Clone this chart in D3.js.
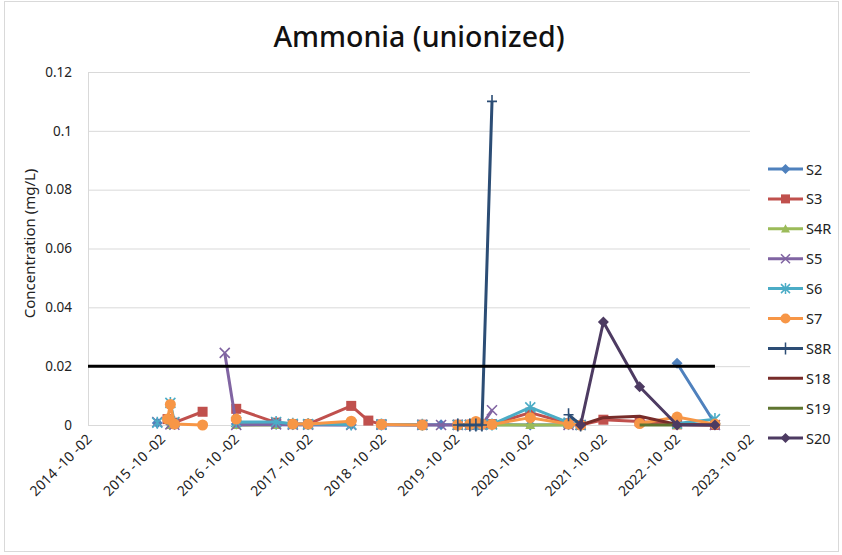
<!DOCTYPE html>
<html>
<head>
<meta charset="utf-8">
<script src="https://cdn.jsdelivr.net/npm/d3@7/dist/d3.min.js"></script>
<style>
  body { margin: 0; background: #fff; }
  text { font-family: "Noto Sans", "Open Sans", sans-serif; fill: #222; }
</style>
</head>
<body>
<div id="my_dataviz"></div>
<script>
// sampling dates (shared by all stations)
var dates = ["2015-09-11", "2015-11-01", "2015-11-15", "2015-12-05", "2016-04-23", "2016-08-11",
  "2016-10-07", "2017-04-23", "2017-07-15", "2017-09-29", "2018-05-01", "2018-07-25", "2018-09-28",
  "2019-04-19", "2019-07-21", "2019-10-12", "2019-12-11", "2020-01-10", "2020-02-09", "2020-03-30",
  "2020-10-06", "2021-04-14", "2021-06-13", "2021-10-04", "2022-04-02", "2022-10-05", "2023-04-11"];

// concentrations per station, null = no sample (gap in the line)
var s2  = [0.0007, null, 0.0004, 0.0002, null, null, 0.0003, 0.0002, 0.0001, 0.0001, 0.0001, null, 0.0001,
  0.0001, 0.0001, 0.0001, 0.0001, 0.0001, 0.0001, 0.0001, 0.0, 0.0001, null, null, null, 0.021, 0.0005];
var s3  = [null, 0.002, null, 0.0008, 0.0045, null, 0.0055, 0.0008, 0.0003, 0.0003, 0.0065, 0.0015, 0.0002,
  0.0001, null, 0.0001, 0.0001, 0.0001, 0.0002, 0.0003, 0.0042, 0.0006, 0.0, 0.0018, 0.0012, 0.0002, 0.0];
var s4r = [null, null, 0.0, null, null, null, 0.0, 0.0, null, 0.0, null, null, 0.0,
  null, null, 0.0, null, null, null, 0.0, 0.0, 0.0, null, null, null, 0.0, null];
var s5  = [0.001, null, 0.0002, 0.0001, null, 0.0245, 0.0, 0.0002, 0.0001, 0.0001, 0.0, null, 0.0001,
  0.0, 0.0, 0.0, 0.0, 0.0, 0.0, 0.005, null, 0.0, 0.0, null, null, null, 0.0];
var s6  = [0.0008, null, 0.0075, 0.001, null, null, 0.001, 0.001, 0.0004, 0.0003, 0.0002, null, 0.0002,
  0.0001, null, 0.0001, 0.0001, 0.0001, 0.0001, 0.0002, 0.006, 0.0008, 0.0, null, null, 0.0005, 0.002];
var s7  = [null, 0.002, 0.007, 0.0003, 0.0, null, 0.002, null, 0.0003, 0.0003, 0.0013, null, 0.0002,
  0.0, null, 0.0, 0.0002, 0.0012, 0.0003, 0.0002, 0.0025, 0.0003, 0.0, null, 0.0005, 0.0027, 0.0003];
var s8r = [null, null, null, null, null, null, null, null, null, null, null, null, null,
  null, null, 0.0, 0.0, 0.0, 0.0, 0.11, null, 0.0035, 0.0, null, null, null, null];
var s18 = [null, null, null, null, null, null, null, null, null, null, null, null, null,
  null, null, null, null, null, null, null, null, null, 0.0, 0.0025, 0.003, 0.0002, 0.0];
var s19 = [null, null, null, null, null, null, null, null, null, null, null, null, null,
  null, null, null, null, null, null, null, null, null, null, null, 0.0, 0.0, null];
var s20 = [null, null, null, null, null, null, null, null, null, null, null, null, null,
  null, null, null, null, null, null, null, null, null, 0.0, 0.035, 0.013, 0.0, 0.0];

var seriesNames = ["S2", "S3", "S4R", "S5", "S6", "S7", "S8R", "S18", "S19", "S20"];
var seriesValues = [s2, s3, s4r, s5, s6, s7, s8r, s18, s19, s20];
var seriesColors = ["#4F81BD", "#C0504D", "#9BBB59", "#8064A2", "#4BACC6", "#F79646",
  "#2C4D75", "#772C2A", "#5F7530", "#4D3B62"];
var seriesMarkers = ["diamond", "square", "triangle", "x", "star", "circle", "plus", "none", "none", "diamond"];

// guideline value and its start/end dates
var limitValue = 0.02;
var limitDates = ["2014-10-02", "2023-04-11"];

var yTicks = [0, 0.02, 0.04, 0.06, 0.08, 0.1, 0.12];
var axisStart = "2014-10-02", axisEnd = "2023-10-02";

var margin = { top: 72, right: 92, bottom: 130, left: 88 },
  fullW = 842, fullH = 555,
  width = fullW - margin.left - margin.right,
  height = fullH - margin.top - margin.bottom;

var parse = d3.timeParse("%Y-%m-%d");

var root = d3.select("#my_dataviz")
  .append("svg")
  .attr("width", fullW)
  .attr("height", fullH);

// chart frame
root.append("rect")
  .attr("x", 4.5).attr("y", 1.5)
  .attr("width", 834).attr("height", 550)
  .attr("fill", "none")
  .attr("stroke", "#D9D9D9");

root.append("text")
  .attr("x", 419).attr("y", 47)
  .attr("text-anchor", "middle")
  .style("font-size", "28.5px")
  .style("font-weight", "500")
  .style("fill", "#111")
  .text("Ammonia (unionized)");

var svg = root.append("g")
  .attr("transform", "translate(" + margin.left + "," + margin.top + ")");

var x = d3.scaleTime()
  .domain([parse(axisStart), parse(axisEnd)])
  .range([0, width]);

var y = d3.scaleLinear()
  .domain([0, 0.12])
  .range([height, 0]);

// horizontal gridlines
svg.append("g")
  .selectAll("line")
  .data(yTicks)
  .enter()
  .append("line")
  .attr("x1", 0).attr("x2", width)
  .attr("y1", function(d) { return y(d) + 0.5; })
  .attr("y2", function(d) { return y(d) + 0.5; })
  .attr("stroke", "#D9D9D9");

svg.append("line")
  .attr("x1", 0.5).attr("x2", 0.5)
  .attr("y1", 0).attr("y2", height)
  .attr("stroke", "#D9D9D9");

// y axis
var yAxis = svg.append("g")
  .call(d3.axisLeft(y).tickValues(yTicks).tickSize(0).tickPadding(16)
    .tickFormat(function(d) { return d3.format("")(+d.toFixed(2)); }));
yAxis.select(".domain").remove();
yAxis.selectAll("text").style("font-size", "13.5px").style("font-family", "'Noto Sans', sans-serif").attr("fill", "#222");

root.append("text")
  .attr("transform", "translate(35," + (margin.top + height / 2 - 5) + ") rotate(-90)")
  .attr("text-anchor", "middle")
  .style("font-size", "15px")
  .text("Concentration (mg/L)");

// x axis, one tick per year
var xTicks = d3.range(0, 10).map(function(i) { return d3.timeMonth.offset(parse(axisStart), 12 * i); });
var xAxis = svg.append("g")
  .attr("transform", "translate(0," + height + ")")
  .call(d3.axisBottom(x).tickValues(xTicks).tickSize(0).tickFormat(d3.timeFormat("%Y -%m -%d")));
xAxis.select(".domain").remove();
xAxis.selectAll("text")
  .style("font-size", "14px")
  .style("font-family", "'Noto Sans', sans-serif")
  .attr("fill", "#222")
  .attr("text-anchor", "end")
  .attr("dx", "0").attr("dy", "0")
  .attr("transform", "translate(2,13) rotate(-45)");

// marker shapes, s = half size
function markerPath(type, s) {
  if (type == "diamond") return "M0," + (-s) + "L" + s + ",0L0," + s + "L" + (-s) + ",0Z";
  if (type == "square") return "M" + (-s) + "," + (-s) + "h" + (2 * s) + "v" + (2 * s) + "h" + (-2 * s) + "Z";
  if (type == "triangle") return "M0," + (-s) + "L" + s + "," + (s * 0.8) + "L" + (-s) + "," + (s * 0.8) + "Z";
  if (type == "x") return "M" + (-s) + "," + (-s) + "L" + s + "," + s + "M" + (-s) + "," + s + "L" + s + "," + (-s);
  if (type == "star") return "M" + (-s) + "," + (-s) + "L" + s + "," + s + "M" + (-s) + "," + s + "L" + s + "," + (-s) +
    "M0," + (-s - 1) + "V" + (s + 1);
  if (type == "plus") return "M0," + (-s - 1.5) + "V" + (s + 1.5) + "M" + (-s) + ",0H" + s;
  return "";
}
var stroked = { x: true, star: true, plus: true };
var markerSize = { diamond: 5.5, square: 5, triangle: 5, x: 5, star: 5, plus: 5 };

var line = d3.line()
  .defined(function(d) { return d.v !== null; })
  .x(function(d) { return x(d.date); })
  .y(function(d) { return y(d.v); });

seriesNames.forEach(function(name, i) {
  var pts = dates.map(function(d, j) { return { date: parse(d), v: seriesValues[i][j] }; });
  var g = svg.append("g");
  var mk = seriesMarkers[i];
  g.append("path")
    .datum(pts)
    .attr("fill", "none")
    .attr("stroke", seriesColors[i])
    .attr("stroke-width", 3)
    .attr("stroke-linejoin", "round")
    .attr("d", line);
  if (mk == "circle") {
    g.selectAll("circle")
      .data(pts.filter(function(d) { return d.v !== null; }))
      .enter()
      .append("circle")
      .attr("cx", function(d) { return x(d.date); })
      .attr("cy", function(d) { return y(d.v); })
      .attr("r", 5.5)
      .attr("fill", seriesColors[i]);
  } else if (mk != "none") {
    var isStroke = stroked[mk];
    g.selectAll("path.m")
      .data(pts.filter(function(d) { return d.v !== null; }))
      .enter()
      .append("path")
      .attr("class", "m")
      .attr("transform", function(d) { return "translate(" + x(d.date) + "," + y(d.v) + ")"; })
      .attr("d", markerPath(mk, markerSize[mk]))
      .attr("fill", isStroke ? "none" : seriesColors[i])
      .attr("stroke", seriesColors[i])
      .attr("stroke-width", isStroke ? 1.6 : 0);
  }
});

// guideline
svg.append("line")
  .attr("x1", x(parse(limitDates[0]))).attr("x2", x(parse(limitDates[1])))
  .attr("y1", y(limitValue)).attr("y2", y(limitValue))
  .attr("stroke", "#000")
  .attr("stroke-width", 3);

// legend
var legend = root.append("g")
  .attr("transform", "translate(768,169)");
seriesNames.forEach(function(name, i) {
  var row = legend.append("g").attr("transform", "translate(0," + (i * 29.9) + ")");
  var mk = seriesMarkers[i];
  row.append("line")
    .attr("x1", 0).attr("x2", 35)
    .attr("stroke", seriesColors[i])
    .attr("stroke-width", 3);
  if (mk == "circle") {
    row.append("circle").attr("cx", 17.5).attr("r", 5).attr("fill", seriesColors[i]);
  } else if (mk != "none") {
    var isStroke = stroked[mk];
    row.append("path")
      .attr("transform", "translate(17.5,0)")
      .attr("d", markerPath(mk, markerSize[mk] - 0.5))
      .attr("fill", isStroke ? "none" : seriesColors[i])
      .attr("stroke", seriesColors[i])
      .attr("stroke-width", isStroke ? 1.5 : 0);
  }
  row.append("text")
    .attr("x", 38).attr("y", 5.5)
    .style("font-size", "14.5px")
    .text(name);
});
</script>
</body>
</html>
